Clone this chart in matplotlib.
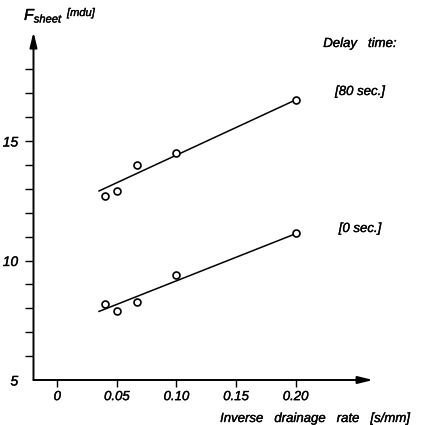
import matplotlib
matplotlib.use("Agg")
import matplotlib.pyplot as plt
import matplotlib.patheffects as pe

# ---- data ----
x_pts = [0.04, 0.05, 0.067, 0.10, 0.20]
f_80 = [12.71, 12.91, 14.01, 14.51, 16.72]
f_0 = [8.19, 7.89, 8.28, 9.41, 11.14]

fit_x = [0.035, 0.20]
fit_80 = [12.91, 16.72]
fit_0 = [7.87, 11.12]

x_ticks = [0, 0.05, 0.10, 0.15, 0.20]
x_ticklabels = ["0", "0.05", "0.10", "0.15", "0.20"]
y_major = [5, 10, 15]
y_minor = [6, 7, 8, 9, 11, 12, 13, 14, 16, 17, 18]

plt.rcParams['font.family'] = ['Liberation Sans', 'DejaVu Sans']
plt.rcParams['font.style'] = 'italic'
plt.rcParams['mathtext.fontset'] = 'custom'
plt.rcParams['mathtext.it'] = 'Liberation Sans:italic'
plt.rcParams['mathtext.rm'] = 'Liberation Sans:italic'

thick = [pe.withStroke(linewidth=0.25, foreground='black')]

fig = plt.figure(figsize=(4.27, 4.25), dpi=100)
ax = fig.add_axes([0, 0, 1, 1])
ax.set_xlim(-0.0481, 0.3102)
ax.set_ylim(3.117, 20.90)
ax.patch.set_alpha(0)

x0, y0 = -0.02, 5
for s in ax.spines.values():
    s.set_visible(False)
ax.spines['left'].set_position(('data', x0))
ax.spines['bottom'].set_position(('data', y0))

# axes with arrows
arrow = dict(arrowstyle='-|>,head_length=0.9,head_width=0.22', lw=1.4,
             color='black', shrinkA=0, shrinkB=0)
ax.annotate('', xy=(x0, 19.56), xytext=(x0, y0), arrowprops=arrow)
ax.annotate('', xy=(0.265, y0), xytext=(x0, y0), arrowprops=arrow)

ax.set_xticks(x_ticks)
ax.set_xticklabels(x_ticklabels)
ax.set_yticks(y_major)
ax.set_yticklabels([str(v) for v in y_major])
ax.set_yticks(y_minor, minor=True)
ax.tick_params(axis='x', direction='out', length=5, width=1.0, pad=3,
               labelsize=9.5)
ax.tick_params(axis='y', which='both', direction='out', length=6, width=1.0,
               pad=5, labelsize=10)
ax.yaxis.get_major_ticks()[0].tick1line.set_visible(False)
for lab in ax.get_xticklabels() + ax.get_yticklabels():
    lab.set_path_effects(thick)

# fitted lines
ax.plot(fit_x, fit_80, color='black', lw=1.1, zorder=2)
ax.plot(fit_x, fit_0, color='black', lw=1.1, zorder=2)
# data points
ax.plot(x_pts, f_80, 'o', ms=5.0, mfc='white', mec='black', mew=1.2, zorder=3)
ax.plot(x_pts, f_0, 'o', ms=5.0, mfc='white', mec='black', mew=1.2, zorder=3)

# texts
texts = [
    fig.text(24 / 427, 1 - 20 / 425, r'$F_{sheet}$', fontsize=11.5,
             ha='left', va='baseline'),
    fig.text(67 / 427, 1 - 16 / 425, '[mdu]', fontsize=8, ha='left',
             va='baseline'),
    fig.text(360 / 427, 1 - 47 / 425, 'Delay   time:', fontsize=9.5,
             ha='center', va='baseline'),
    fig.text(360 / 427, 1 - 95 / 425, '[80 sec.]', fontsize=9.5,
             ha='center', va='baseline'),
    fig.text(360 / 427, 1 - 232 / 425, '[0 sec.]', fontsize=9.5,
             ha='center', va='baseline'),
    fig.text(315 / 427, 1 - 422 / 425, 'Inverse   drainage   rate   [s/mm]',
             fontsize=9.5, ha='center', va='baseline'),
]
for t in texts:
    t.set_path_effects(thick)

fig.savefig('out.png', dpi=100)
